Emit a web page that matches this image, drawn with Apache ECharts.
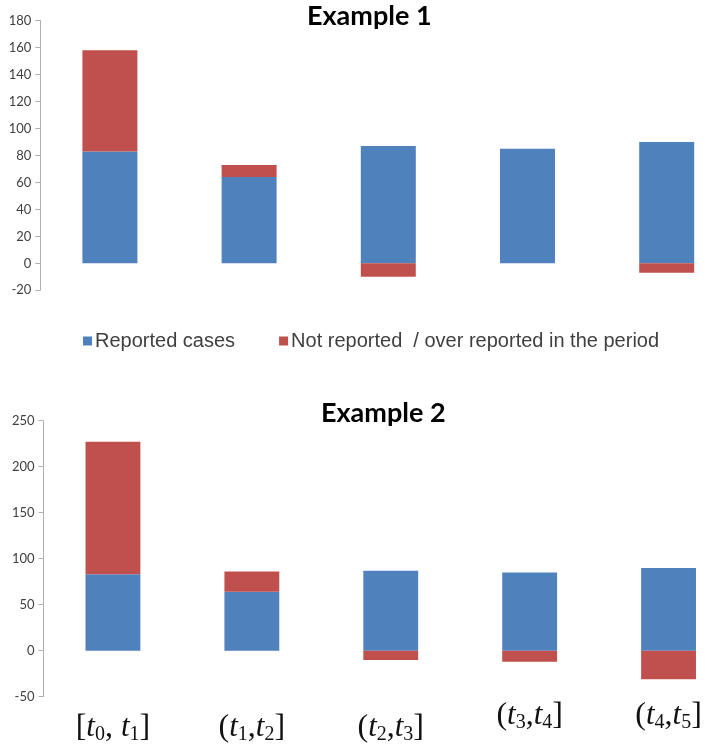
<!DOCTYPE html>
<html>
<head>
<meta charset="utf-8">
<script src="https://cdn.jsdelivr.net/npm/echarts@6/dist/echarts.min.js"></script>
<style>
html,body{margin:0;padding:0;background:#fff;}
#chart{width:714px;height:746px;}
</style>
</head>
<body>
<div id="chart"></div>
<script>
// ---- data ----
var categories = ['[t0, t1]', '(t1,t2]', '(t2,t3]', '(t3,t4]', '(t4,t5]'];
var seriesNames = ['Reported cases', 'Not reported  / over reported in the period'];
var titles = ['Example 1', 'Example 2'];
var reported1 = [83, 64, 87, 85, 90];
var notReported1 = [75, 9, -10, 0, -7];
var reported2 = [83, 64, 87, 85, 90];
var notReported2 = [144, 22, -10, -12, -31];
var yTicks1 = { min: -20, max: 180, interval: 20 };
var yTicks2 = { min: -50, max: 250, interval: 50 };

var BLUE = '#4F81BD', RED = '#C0504D';

function toRich(s) {
  var out = '';
  for (var i = 0; i < s.length; i++) {
    var c = s[i];
    if (c === 't' && /\d/.test(s[i + 1] || '')) {
      out += '{t|t}{s|' + s[i + 1] + '}';
      i++;
    } else {
      out += '{b|' + c + '}';
    }
  }
  return out;
}

var raised = [false, false, false, true, true];
var xData2 = categories.map(function (c, i) {
  return { value: c, textStyle: { padding: [raised[i] ? 0 : 12, 0, 0, 0] } };
});

var yLabel = { color: '#404040', fontFamily: 'Lato', fontSize: 13, margin: 9 };
var yLine = { show: true, lineStyle: { color: '#b0b0b0', width: 1 } };
var yTick = { show: true, length: 5, lineStyle: { color: '#b0b0b0' } };

var chart = echarts.init(document.getElementById('chart'));
chart.setOption({
  animation: false,
  backgroundColor: '#fff',
  title: [
    { text: titles[0], left: 302, top: -2, textStyle: { fontFamily: 'Lato', fontWeight: 'bold', fontSize: 27, color: '#000' } },
    { text: titles[1], left: 316, top: 395, textStyle: { fontFamily: 'Lato', fontWeight: 'bold', fontSize: 27, color: '#000' } }
  ],
  legend: {
    data: seriesNames,
    left: 83, top: 331, padding: 0,
    icon: 'rect', itemWidth: 9, itemHeight: 9, itemGap: 44,
    textStyle: { fontFamily: 'Liberation Sans', fontSize: 20, color: '#404040', padding: [0, 0, 0, -2] }
  },
  grid: [
    { left: 40.3, top: 20.7, width: 696, height: 269.6, outerBoundsMode: 'none', containLabel: false },
    { left: 43.5, top: 420.7, width: 694.5, height: 276, outerBoundsMode: 'none', containLabel: false }
  ],
  xAxis: [
    { type: 'category', gridIndex: 0, data: categories, axisLine: { show: false }, axisTick: { show: false }, axisLabel: { show: false } },
    { type: 'category', gridIndex: 1, data: xData2, axisLine: { show: false }, axisTick: { show: false },
      axisLabel: {
        show: true, margin: 2, interval: 0,
        formatter: function (v) { return toRich(v); },
        rich: {
          b: { fontFamily: 'Liberation Serif', fontSize: 32, lineHeight: 34, color: '#111' },
          t: { fontFamily: 'Liberation Serif', fontStyle: 'italic', fontSize: 31, lineHeight: 34, color: '#111' },
          s: { fontFamily: 'Liberation Serif', fontSize: 20, lineHeight: 18, verticalAlign: 'bottom', color: '#111' }
        }
      } }
  ],
  yAxis: [
    { type: 'value', gridIndex: 0, min: yTicks1.min, max: yTicks1.max, interval: yTicks1.interval,
      splitLine: { show: false }, axisLine: yLine, axisTick: yTick, axisLabel: yLabel },
    { type: 'value', gridIndex: 1, min: yTicks2.min, max: yTicks2.max, interval: yTicks2.interval,
      splitLine: { show: false }, axisLine: yLine, axisTick: yTick, axisLabel: yLabel }
  ],
  series: [
    { name: seriesNames[0], type: 'bar', xAxisIndex: 0, yAxisIndex: 0, stack: 'a', barWidth: '39.5%', data: reported1, itemStyle: { color: BLUE } },
    { name: seriesNames[1], type: 'bar', xAxisIndex: 0, yAxisIndex: 0, stack: 'a', barWidth: '39.5%', data: notReported1, itemStyle: { color: RED } },
    { name: seriesNames[0], type: 'bar', xAxisIndex: 1, yAxisIndex: 1, stack: 'b', barWidth: '39.5%', data: reported2, itemStyle: { color: BLUE } },
    { name: seriesNames[1], type: 'bar', xAxisIndex: 1, yAxisIndex: 1, stack: 'b', barWidth: '39.5%', data: notReported2, itemStyle: { color: RED } }
  ]
});
</script>
</body>
</html>
